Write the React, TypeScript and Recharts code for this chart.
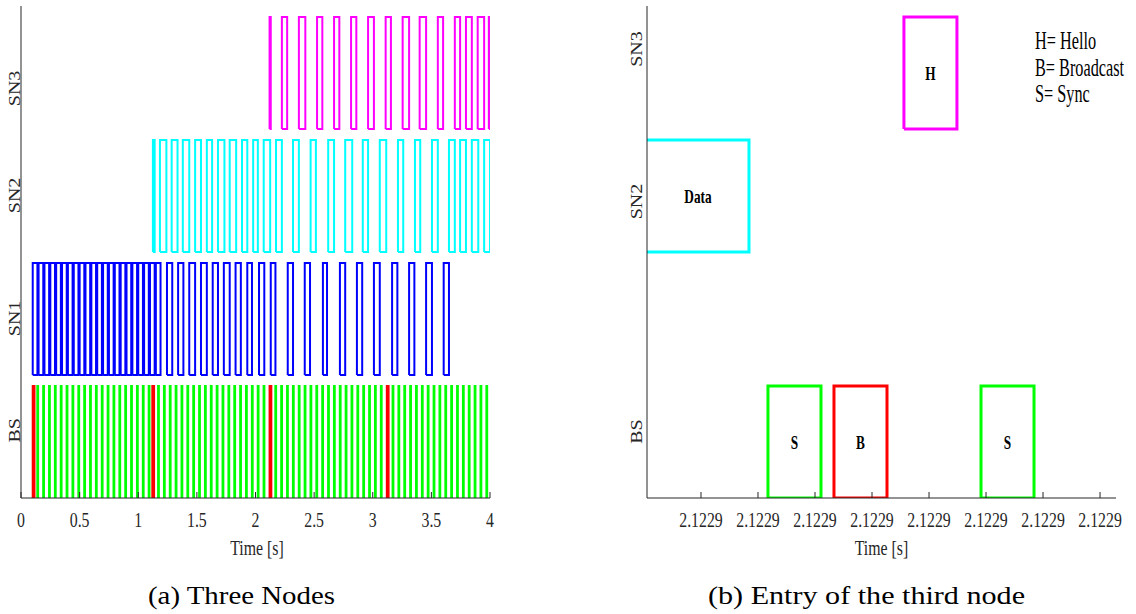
import { LineChart, Line, XAxis, YAxis, ReferenceDot } from 'recharts';

const FONT = '"Liberation Serif", "Times New Roman", serif';
const AXIS_COLOR = '#262626';

// Height of a pulse inside its row (rows sit at 0, 1, 2, 3)
const PULSE_H = 0.91;

// ---- (a) three nodes, whole run, seconds ----
const BS_BROADCAST = [0.1, 1.12, 2.12, 3.12];
const BS_BROADCAST_W = 0.015;
const BS_SYNC = [
  0.14, 0.19, 0.24, 0.29, 0.34, 0.39, 0.44, 0.49, 0.54, 0.59, 0.64, 0.69, 0.74, 0.79, 0.84, 0.89, 0.94, 0.99, 1.04, 1.09,
  1.17, 1.22, 1.27, 1.32, 1.37, 1.42, 1.47, 1.52, 1.57, 1.62, 1.67, 1.72, 1.77, 1.82, 1.87, 1.92, 1.97, 2.02, 2.07,
  2.17, 2.22, 2.27, 2.32, 2.37, 2.42, 2.47, 2.52, 2.57, 2.62, 2.67, 2.72, 2.77, 2.82, 2.87, 2.92, 2.97, 3.02, 3.07,
  3.17, 3.22, 3.27, 3.32, 3.37, 3.42, 3.47, 3.52, 3.57, 3.62, 3.67, 3.72, 3.77, 3.82, 3.87, 3.92, 3.97,
];
const BS_SYNC_W = 0.005;

const SN1_PULSES: [number, number][] = [
  [0.1, 0.14], [0.15, 0.19], [0.2, 0.24], [0.25, 0.29], [0.3, 0.34], [0.35, 0.39], [0.4, 0.44], [0.45, 0.49],
  [0.5, 0.54], [0.55, 0.59], [0.6, 0.64], [0.65, 0.69], [0.7, 0.74], [0.75, 0.79], [0.8, 0.84], [0.85, 0.89],
  [0.9, 0.94], [0.95, 0.99], [1.0, 1.04], [1.05, 1.09], [1.1, 1.14], [1.15, 1.19],
  [1.245, 1.29], [1.34, 1.385], [1.435, 1.485], [1.535, 1.585], [1.635, 1.68], [1.73, 1.78], [1.83, 1.875],
  [1.93, 1.97], [2.03, 2.075], [2.13, 2.17],
  [2.275, 2.32], [2.42, 2.465], [2.575, 2.61], [2.72, 2.765], [2.865, 2.91], [3.01, 3.06], [3.165, 3.21],
  [3.31, 3.355], [3.455, 3.505], [3.605, 3.65],
];

const SN2_PULSES: [number, number][] = [
  [1.125, 1.14], [1.185, 1.24], [1.285, 1.335], [1.38, 1.435], [1.485, 1.535], [1.585, 1.63], [1.68, 1.735],
  [1.78, 1.835], [1.885, 1.93], [1.98, 2.02], [2.07, 2.125], [2.175, 2.225],
  [2.32, 2.37], [2.47, 2.515], [2.62, 2.67], [2.765, 2.825], [2.915, 2.96], [3.06, 3.115], [3.215, 3.26],
  [3.36, 3.405], [3.505, 3.555], [3.65, 3.7],
  [3.745, 3.795], [3.845, 3.9], [3.95, 4.0],
];

const SN3_PULSES: [number, number][] = [
  [2.12, 2.13], [2.225, 2.27], [2.37, 2.425], [2.525, 2.57], [2.67, 2.715], [2.815, 2.86], [2.96, 3.01],
  [3.11, 3.155], [3.255, 3.31], [3.4, 3.455], [3.555, 3.6], [3.7, 3.745],
  [3.795, 3.845], [3.895, 3.95], [3.99, 4.0],
];

const LEFT_X_TICKS = [0, 0.5, 1, 1.5, 2, 2.5, 3, 3.5, 4];
const LEFT_ROW_NAMES = ['BS', 'SN1', 'SN2', 'SN3'];
const LEFT_ROW_TICKS = [0.55, 1.46, 2.46, 3.33];

// ---- (b) zoom on the third node joining, microseconds after T0 ----
const ZOOM_T0 = 2.1229;
const RIGHT_DOMAIN = [0.053, 8.28];
const RIGHT_X_TICKS = [1, 2, 3, 4, 5, 6, 7, 8];
const RIGHT_ROW_NAMES = ['BS', 'SN2', 'SN3'];
const RIGHT_ROW_TICKS = [0.54, 2.41, 3.65];

const PACKET_LABELS = ['Data', 'H', 'S', 'B', 'S'];
const PACKET_ROWS = [2, 3, 0, 0, 0];
const PACKET_FROM = [-0.5, 4.56, 2.175, 3.333, 5.912];
const PACKET_TO = [1.842, 5.49, 3.105, 4.263, 6.842];
const PACKET_COLORS = ['#00ffff', '#ff00ff', '#00ff00', '#ff0000', '#00ff00'];

const LEGEND_LINES = ['H= Hello', 'B= Broadcast', 'S= Sync'];

// Each pulse becomes a closed box outline; a null point breaks the line between boxes
function outline(pulses: [number, number][], row: number) {
  const pts: { t: number; v: number | null }[] = [];
  pulses.forEach(([a, b]) => {
    const lo = row;
    const hi = row + PULSE_H;
    pts.push({ t: a, v: lo }, { t: a, v: hi }, { t: b, v: hi }, { t: b, v: lo }, { t: a, v: lo }, { t: b, v: null });
  });
  return pts;
}

const withWidth = (starts: number[], w: number): [number, number][] => starts.map((s) => [s, s + w]);

function XTick(props: any) {
  const { x, y, payload, fmt } = props;
  return (
    <g>
      <line x1={x} x2={x} y1={y} y2={y - 6} stroke={AXIS_COLOR} strokeWidth={1} />
      <text
        transform={`translate(${x},${y + 29}) scale(0.72,1)`}
        textAnchor="middle"
        fontFamily={FONT}
        fontSize={22}
        fill={AXIS_COLOR}
      >
        {fmt(payload.value)}
      </text>
    </g>
  );
}

function YTick(props: any) {
  const { x, y, payload, names, ticks, gap } = props;
  const name = names[ticks.indexOf(payload.value)];
  return (
    <text
      transform={`translate(${x - gap},${y}) scale(0.85,1) rotate(-90)`}
      textAnchor="middle"
      fontFamily={FONT}
      fontSize={20}
      fill={AXIS_COLOR}
    >
      {name}
    </text>
  );
}

function ThreeNodes() {
  return (
    <LineChart width={560} height={560} margin={{ top: 6, right: 70, bottom: 0, left: 0 }}>
      <XAxis
        type="number"
        dataKey="t"
        domain={[0, 4]}
        ticks={LEFT_X_TICKS}
        interval={0}
        allowDataOverflow
        height={62}
        tickLine={false}
        tickSize={0}
        tickMargin={0}
        axisLine={{ stroke: AXIS_COLOR }}
        tick={(p: any) => <XTick {...p} fmt={(v: number) => String(v)} />}
      />
      <YAxis
        type="number"
        domain={[0, 4]}
        ticks={LEFT_ROW_TICKS}
        interval={0}
        allowDataOverflow
        width={21}
        tickLine={false}
        tickSize={0}
        tickMargin={0}
        axisLine={{ stroke: AXIS_COLOR }}
        tick={(p: any) => <YTick {...p} names={LEFT_ROW_NAMES} ticks={LEFT_ROW_TICKS} gap={1.5} />}
      />
      <Line data={outline(withWidth(BS_SYNC, BS_SYNC_W), 0)} dataKey="v" type="linear" stroke="#00ff00"
        strokeWidth={2.2} dot={false} activeDot={false} isAnimationActive={false} />
      <Line data={outline(withWidth(BS_BROADCAST, BS_BROADCAST_W), 0)} dataKey="v" type="linear" stroke="#ff0000"
        strokeWidth={2} dot={false} activeDot={false} isAnimationActive={false} />
      <Line data={outline(SN1_PULSES, 1)} dataKey="v" type="linear" stroke="#0000ff"
        strokeWidth={2} dot={false} activeDot={false} isAnimationActive={false} />
      <Line data={outline(SN2_PULSES, 2)} dataKey="v" type="linear" stroke="#00ffff"
        strokeWidth={2} dot={false} activeDot={false} isAnimationActive={false} />
      <Line data={outline(SN3_PULSES, 3)} dataKey="v" type="linear" stroke="#ff00ff"
        strokeWidth={2} dot={false} activeDot={false} isAnimationActive={false} />
    </LineChart>
  );
}

function EntryOfThirdNode() {
  return (
    <LineChart width={576} height={560} margin={{ top: 6, right: 20, bottom: 0, left: 0 }}>
      <XAxis
        type="number"
        dataKey="t"
        domain={RIGHT_DOMAIN}
        ticks={RIGHT_X_TICKS}
        interval={0}
        allowDataOverflow
        height={62}
        tickLine={false}
        tickSize={0}
        tickMargin={0}
        axisLine={{ stroke: AXIS_COLOR }}
        tick={(p: any) => <XTick {...p} fmt={(v: number) => (ZOOM_T0 + v * 1e-6).toFixed(4)} />}
      />
      <YAxis
        type="number"
        domain={[0, 4]}
        ticks={RIGHT_ROW_TICKS}
        interval={0}
        allowDataOverflow
        width={87}
        tickLine={false}
        tickSize={0}
        tickMargin={0}
        axisLine={{ stroke: AXIS_COLOR }}
        tick={(p: any) => <YTick {...p} names={RIGHT_ROW_NAMES} ticks={RIGHT_ROW_TICKS} gap={5} />}
      />
      {PACKET_LABELS.map((label, i) => (
        <Line
          key={`box-${i}`}
          data={outline([[PACKET_FROM[i], PACKET_TO[i]]], PACKET_ROWS[i])}
          dataKey="v"
          type="linear"
          stroke={PACKET_COLORS[i]}
          strokeWidth={3}
          dot={false}
          activeDot={false}
          isAnimationActive={false}
        />
      ))}
      {PACKET_LABELS.map((label, i) => (
        <ReferenceDot
          key={`label-${i}`}
          x={(Math.max(PACKET_FROM[i], RIGHT_DOMAIN[0]) + PACKET_TO[i]) / 2}
          y={PACKET_ROWS[i] + PULSE_H / 2}
          r={0}
          shape={(p: any) => (
            <text
              transform={`translate(${p.cx},${p.cy + 6.5}) scale(0.7,1)`}
              textAnchor="middle"
              fontFamily={FONT}
              fontSize={19}
              fontWeight="bold"
              fill="#000"
            >
              {label}
            </text>
          )}
        />
      ))}
    </LineChart>
  );
}

export default function App() {
  return (
    <div style={{ position: 'absolute', left: 0, top: 0, width: 1136, height: 614, background: '#fff', overflow: 'hidden' }}>
      <div style={{ position: 'absolute', left: 0, top: 0 }}>
        <ThreeNodes />
      </div>
      <div style={{ position: 'absolute', left: 560, top: 0 }}>
        <EntryOfThirdNode />
      </div>
      <svg width={1136} height={614} style={{ position: 'absolute', left: 0, top: 0, pointerEvents: 'none' }}>
        <g fontFamily={FONT} fill={AXIS_COLOR}>
          <text transform="translate(257,555) scale(0.72,1)" textAnchor="middle" fontSize={22}>Time [s]</text>
          <text transform="translate(881.5,555) scale(0.72,1)" textAnchor="middle" fontSize={22}>Time [s]</text>
          {LEGEND_LINES.map((line, i) => (
            <text key={line} transform={`translate(1035,${49 + i * 26.5}) scale(0.65,1)`} fontSize={25} fill="#000">
              {line}
            </text>
          ))}
        </g>
        <g fontFamily={FONT} fill="#000" fontSize={25}>
          <text x={148} y={604} textLength={187} lengthAdjust="spacingAndGlyphs">(a) Three Nodes</text>
          <text x={708} y={604} textLength={317} lengthAdjust="spacingAndGlyphs">(b) Entry of the third node</text>
        </g>
      </svg>
    </div>
  );
}
